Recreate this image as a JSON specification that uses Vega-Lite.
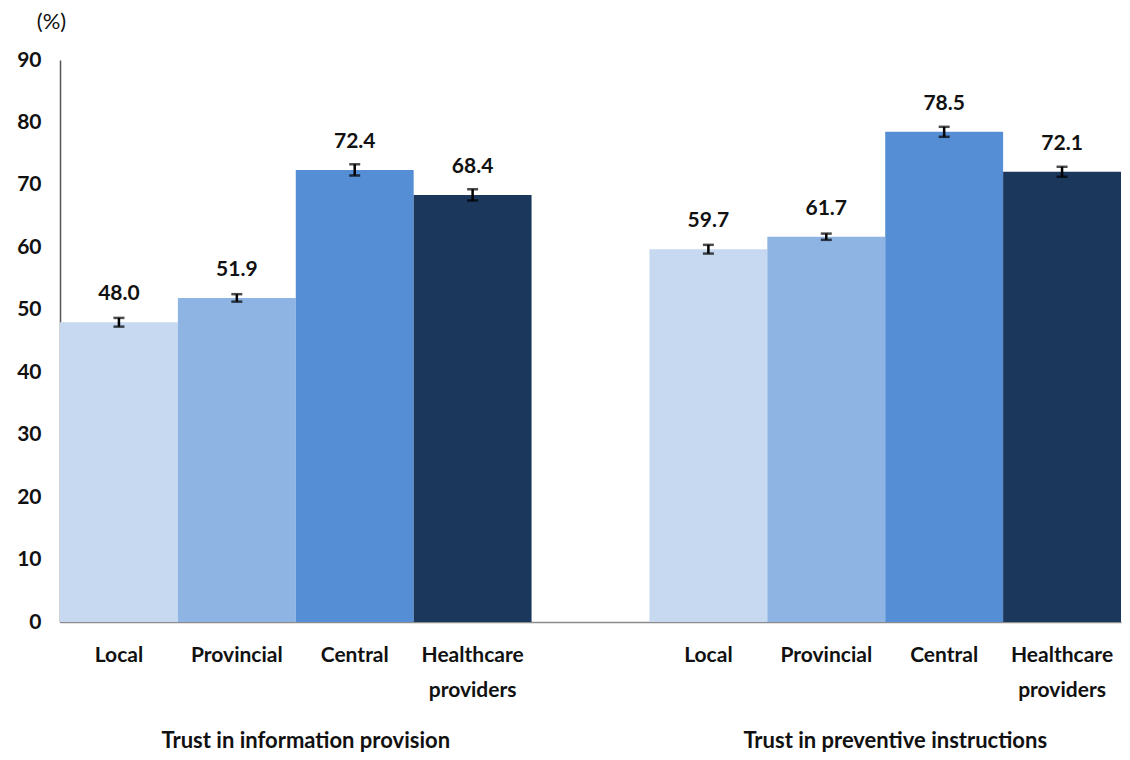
{
  "$schema": "https://vega.github.io/schema/vega-lite/v6.json",
  "autosize": "none",
  "width": 1061,
  "height": 562,
  "padding": {"left": 60, "top": 60, "right": 9, "bottom": 138},
  "background": "white",
  "config": {
    "view": {"stroke": null},
    "font": "Lato",
    "axisY": {"titleFontSize": 22, "titleFontWeight": "normal", "titleColor": "#111111", "titleFont": "Lato"}
  },
  "datasets": {
    "bars": [
      {"key": "A-Local", "level": "Local", "group": "Trust in information provision", "value": 48.0, "lo": 47.3, "hi": 48.7},
      {"key": "A-Provincial", "level": "Provincial", "group": "Trust in information provision", "value": 51.9, "lo": 51.3, "hi": 52.5},
      {"key": "A-Central", "level": "Central", "group": "Trust in information provision", "value": 72.4, "lo": 71.5, "hi": 73.3},
      {"key": "A-Healthcare providers", "level": "Healthcare providers", "group": "Trust in information provision", "value": 68.4, "lo": 67.5, "hi": 69.3},
      {"key": "B-Local", "level": "Local", "group": "Trust in preventive instructions", "value": 59.7, "lo": 59.0, "hi": 60.4},
      {"key": "B-Provincial", "level": "Provincial", "group": "Trust in preventive instructions", "value": 61.7, "lo": 61.2, "hi": 62.2},
      {"key": "B-Central", "level": "Central", "group": "Trust in preventive instructions", "value": 78.5, "lo": 77.7, "hi": 79.3},
      {"key": "B-Healthcare providers", "level": "Healthcare providers", "group": "Trust in preventive instructions", "value": 72.1, "lo": 71.3, "hi": 72.9}
    ],
    "groups": [
      {"key": "A-Central", "title": "Trust in information provision"},
      {"key": "B-Central", "title": "Trust in preventive instructions"}
    ]
  },
  "encoding": {
    "x": {
      "field": "key",
      "type": "nominal",
      "scale": {
        "domain": ["A-Local", "A-Provincial", "A-Central", "A-Healthcare providers", "X-", "B-Local", "B-Provincial", "B-Central", "B-Healthcare providers"],
        "paddingInner": 0,
        "paddingOuter": 0
      },
      "axis": {
        "title": null,
        "labelAngle": 0,
        "ticks": false,
        "domainColor": "#8c8c8c",
        "domainWidth": 1.5,
        "labelFont": "Lato",
        "labelFontSize": 21,
        "labelFontWeight": "bold",
        "labelColor": "#111111",
        "labelPadding": 22,
        "labelBaseline": "top",
        "labelLineHeight": 35,
        "labelExpr": "slice(datum.value, 2) == 'Healthcare providers' ? ['Healthcare', 'providers'] : slice(datum.value, 2)"
      }
    }
  },
  "layer": [
    {
      "data": {"name": "bars"},
      "mark": {"type": "bar"},
      "encoding": {
        "y": {
          "field": "value",
          "type": "quantitative",
          "scale": {"domain": [0, 90]},
          "title": "(%)",
          "axis": {
            "titleAngle": 0,
            "titleAlign": "center",
            "titleBaseline": "middle",
            "titleX": -9,
            "titleY": -39,
            "values": [0, 10, 20, 30, 40, 50, 60, 70, 80, 90],
            "ticks": false,
            "grid": false,
            "domainColor": "#555555",
            "domainWidth": 1.5,
            "labelFont": "Lato",
            "labelFontSize": 21,
            "labelFontWeight": "bold",
            "labelColor": "#111111",
            "labelPadding": 19
          }
        },
        "color": {
          "field": "level",
          "type": "nominal",
          "scale": {
            "domain": ["Local", "Provincial", "Central", "Healthcare providers"],
            "range": ["#C6D9F1", "#8EB4E3", "#558ED5", "#1B375C"]
          },
          "legend": null
        }
      }
    },
    {
      "data": {"name": "bars"},
      "mark": {"type": "errorbar", "ticks": {"size": 11, "thickness": 2.5, "color": "#000000"}, "rule": {"strokeWidth": 2.5, "color": "#000000"}},
      "encoding": {
        "y": {"field": "lo", "type": "quantitative", "title": "(%)"},
        "y2": {"field": "hi"}
      }
    },
    {
      "data": {"name": "bars"},
      "mark": {"type": "text", "baseline": "middle", "align": "center", "dy": -28, "font": "Lato", "fontSize": 21, "fontWeight": "bold", "color": "#111111"},
      "encoding": {
        "y": {"field": "value", "type": "quantitative", "title": "(%)"},
        "text": {"field": "value", "type": "quantitative", "format": ".1f"}
      }
    },
    {
      "data": {"name": "groups"},
      "mark": {"type": "text", "baseline": "middle", "align": "center", "dx": 10, "dy": 119, "font": "Lato", "fontSize": 22, "fontWeight": "bold", "color": "#111111"},
      "encoding": {
        "x": {"field": "key", "type": "nominal", "bandPosition": 0},
        "y": {"datum": 0, "type": "quantitative", "title": "(%)"},
        "text": {"field": "title"}
      }
    }
  ]
}
